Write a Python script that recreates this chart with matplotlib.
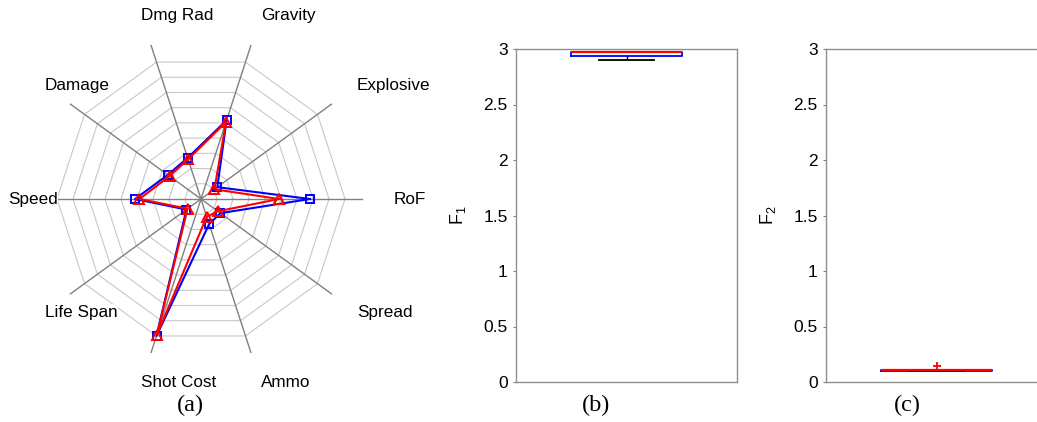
import numpy as np
import matplotlib
matplotlib.use('Agg')
import matplotlib.pyplot as plt

plt.rcParams['font.family'] = ['Liberation Sans', 'DejaVu Sans']
plt.rcParams['mathtext.default'] = 'regular'

### Datos
# Atributos del radar (en orden antihorario empezando en 0 grados)
atributos = ['RoF', 'Explosive', 'Gravity', 'Dmg Rad', 'Damage',
             'Speed', 'Life Span', 'Shot Cost', 'Ammo', 'Spread']
# Valores normalizados (0 = centro, 1 = anillo exterior)
serie_azul = [0.757, 0.14, 0.575, 0.30, 0.285, 0.458, 0.125, 1.0, 0.183, 0.167]
serie_roja = [0.542, 0.115, 0.562, 0.29, 0.27, 0.428, 0.115, 0.99, 0.129, 0.145]
n_anillos = 9

# Estadisticos de las cajas (b) y (c)
f1_stats = dict(med=2.97, q1=2.935, q3=2.97, whislo=2.898, whishi=2.97, fliers=[])
f2_stats = dict(med=0.105, q1=0.102, q3=0.105, whislo=0.102, whishi=0.105, fliers=[0.142])
yticks = [0, 0.5, 1, 1.5, 2, 2.5, 3]
ytick_labels = ['0', '0.5', '1', '1.5', '2', '2.5', '3']

W, H = 1037, 422
fig = plt.figure(figsize=(W / 100, H / 100), dpi=100)


# Crea unos ejes a partir de coordenadas en pixeles (origen arriba-izquierda)
def ejes_px(left, top, width, height):
    return fig.add_axes([left / W, 1 - (top + height) / H, width / W, height / H])


### (a) Radar
R = 144.0
cx, cy = 201, 199
ax = ejes_px(cx - 1.4 * R, cy - 1.38 * R, 3.0 * R, 2.88 * R)
ax.set_xlim(-1.4, 1.6)
ax.set_ylim(-1.5, 1.38)
ax.axis('off')

n = len(atributos)
ang = np.deg2rad(np.arange(n) * 360.0 / n)
ang_c = np.append(ang, ang[0])

# Anillos
for k in range(1, n_anillos + 1):
    r = k / n_anillos
    ax.plot(r * np.cos(ang_c), r * np.sin(ang_c), color='#c8c8c8', lw=0.8, zorder=1)
# Ejes radiales
for a in ang:
    ax.plot([0, 1.12 * np.cos(a)], [0, 1.12 * np.sin(a)], color='#808080', lw=1.0, zorder=1)

# Series
for vals, col, mk, ms in [(serie_azul, 'blue', 's', 6), (serie_roja, 'red', '^', 7.5)]:
    v = np.append(vals, vals[0])
    ax.plot(v * np.cos(ang_c), v * np.sin(ang_c), color=col, lw=1.5, marker=mk,
            markersize=ms, markerfacecolor='none', markeredgecolor=col,
            markeredgewidth=1.4, zorder=3)

# Etiquetas de los atributos
for nombre, a in zip(atributos, ang):
    ax.text(1.34 * np.cos(a), 1.34 * np.sin(a), nombre, ha='left', va='center',
            fontsize=12.3, zorder=4,
            bbox=dict(facecolor='white', edgecolor='none', pad=0.5))


### (b) y (c) Cajas
def caja(ax, stats, etiqueta):
    ax.bxp([stats], positions=[1], widths=0.5, showfliers=True,
           boxprops=dict(color='blue', lw=1.3),
           medianprops=dict(color='red', lw=1.6),
           whiskerprops=dict(color='black', ls='--', lw=1.0),
           capprops=dict(color='black', lw=1.3),
           flierprops=dict(marker='+', markeredgecolor='red', markersize=6,
                           markeredgewidth=1.3))
    ax.set_xlim(0.5, 1.5)
    ax.set_ylim(0, 3)
    ax.set_xticks([])
    ax.set_yticks(yticks)
    ax.set_yticklabels(ytick_labels)
    ax.tick_params(axis='y', direction='out', length=2, pad=4, color='#808080',
                   labelsize=12.5)
    for sp in ax.spines.values():
        sp.set_color('#909090')
        sp.set_linewidth(1.0)
    ax.set_ylabel(etiqueta, fontsize=13)
    ax.yaxis.set_label_coords(-0.217, 0.5)


ax_b = ejes_px(516, 49, 221, 333)
caja(ax_b, f1_stats, 'F$_1$')
ax_c = ejes_px(826, 49, 221, 333)
caja(ax_c, f2_stats, 'F$_2$')

# Letras de las subfiguras
for x, txt in [(190, '(a)'), (596, '(b)'), (907, '(c)')]:
    fig.text(x / W, 1 - 405 / H, txt, family='Liberation Serif', fontsize=17.5,
             ha='center', va='center')

fig.savefig('out.png', dpi=100)
